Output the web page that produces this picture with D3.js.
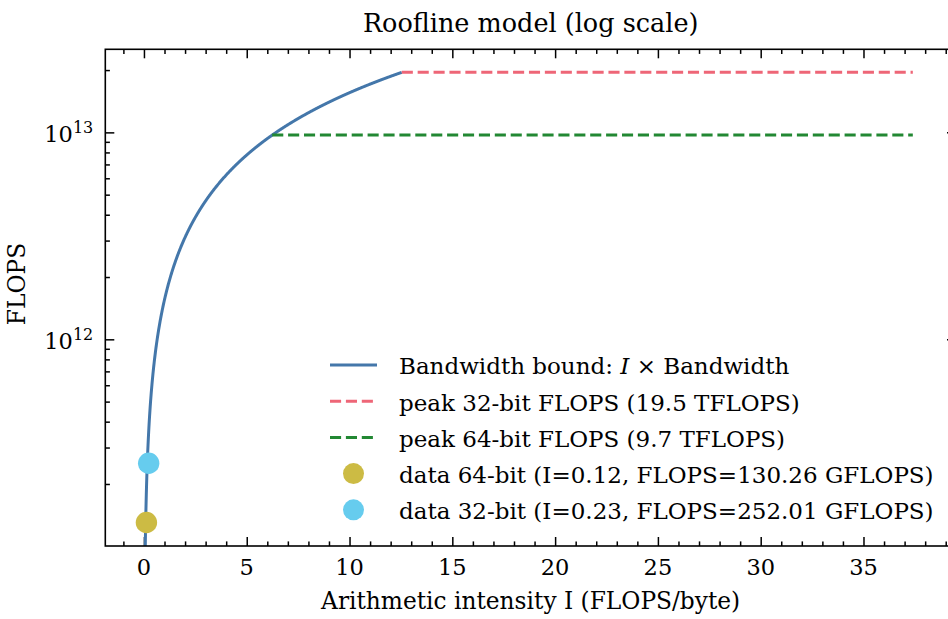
<!DOCTYPE html>
<html>
<head>
<meta charset="utf-8">
<script src="https://cdn.jsdelivr.net/npm/d3@7"></script>
<style>
  body { margin: 0; background: #ffffff; }
  svg text { font-family: "DejaVu Serif", serif; fill: #000; }
</style>
</head>
<body>
<svg id="chart" width="948" height="619"></svg>
<script>
// ---- data -------------------------------------------------------------
const xTickValues = [0, 5, 10, 15, 20, 25, 30, 35];
const xTickLabels = ["0", "5", "10", "15", "20", "25", "30", "35"];
const yTickExponents = [12, 13];
const bandwidth = 1.555e12;                     // bytes / s
const peakNames = ["peak 32-bit FLOPS (19.5 TFLOPS)", "peak 64-bit FLOPS (9.7 TFLOPS)"];
const peakFlops = [19.5e12, 9.7e12];
const peakColors = ["#EE6677", "#228833"];
const intensityEnd = 37.4;                      // right end of the compute roofs
const pointNames = ["data 64-bit (I=0.12, FLOPS=130.26 GFLOPS)", "data 32-bit (I=0.23, FLOPS=252.01 GFLOPS)"];
const pointIntensity = [0.12, 0.23];
const pointFlops = [130.26e9, 252.01e9];
const pointColors = ["#CCBB44", "#66CCEE"];
const lineColor = "#4477AA";

// ---- layout -----------------------------------------------------------
const svg = d3.select("#chart");
const box = { left: 105.3, right: 956, top: 49.3, bottom: 546 };
const TICK_FONT = 22.5, LABEL_FONT = 23.3, LEGEND_FONT = 23, TITLE_FONT = 25.5;

const x = d3.scaleLinear().domain([-1.88, 39.5]).range([box.left, box.right]);
const y = d3.scaleLog().domain([1.003e11, 2.52e13]).range([box.bottom, box.top]);

svg.append("defs").append("clipPath").attr("id", "plotArea")
  .append("rect")
  .attr("x", box.left).attr("y", box.top)
  .attr("width", box.right - box.left).attr("height", box.bottom - box.top);

// ---- ticks (all pointing inward, on all four sides) ----------------------
const xMinor = d3.range(Math.ceil(x.domain()[0]), Math.floor(x.domain()[1]) + 1)
  .filter(v => !xTickValues.includes(v));
const yMajor = yTickExponents.map(e => Math.pow(10, e));
const yMinor = [];
[11, 12, 13].forEach(e => d3.range(2, 10).forEach(k => {
  const v = k * Math.pow(10, e);
  if (v >= y.domain()[0] && v <= y.domain()[1]) yMinor.push(v);
}));

function tickGroup(axis, tx, ty) {
  const g = svg.append("g").attr("transform", `translate(${tx},${ty})`).call(axis);
  g.select(".domain").remove();
  g.selectAll("text").remove();
  g.selectAll("line").attr("stroke", "#000").attr("stroke-width", 1.5);
  return g;
}
const MAJ = 9, MIN = 4.6;
tickGroup(d3.axisBottom(x).tickValues(xTickValues).tickSizeInner(-MAJ).tickSizeOuter(0), 0, box.bottom);
tickGroup(d3.axisBottom(x).tickValues(xMinor).tickSizeInner(-MIN).tickSizeOuter(0), 0, box.bottom);
tickGroup(d3.axisTop(x).tickValues(xTickValues).tickSizeInner(-MAJ).tickSizeOuter(0), 0, box.top);
tickGroup(d3.axisTop(x).tickValues(xMinor).tickSizeInner(-MIN).tickSizeOuter(0), 0, box.top);
tickGroup(d3.axisLeft(y).tickValues(yMajor).tickSizeInner(-MAJ).tickSizeOuter(0), box.left, 0);
tickGroup(d3.axisLeft(y).tickValues(yMinor).tickSizeInner(-MIN).tickSizeOuter(0), box.left, 0);
tickGroup(d3.axisRight(y).tickValues(yMajor).tickSizeInner(-MAJ).tickSizeOuter(0), box.right, 0);
tickGroup(d3.axisRight(y).tickValues(yMinor).tickSizeInner(-MIN).tickSizeOuter(0), box.right, 0);

// ---- tick labels ----------------------------------------------------------
svg.append("g").selectAll("text")
  .data(xTickValues)
  .join("text")
  .attr("x", d => x(d))
  .attr("y", box.bottom + 28.5)
  .attr("text-anchor", "middle")
  .attr("font-size", TICK_FONT)
  .text((d, i) => xTickLabels[i]);

const yLab = svg.append("g").selectAll("text")
  .data(yTickExponents)
  .join("text")
  .attr("x", box.left - 12)
  .attr("y", d => y(Math.pow(10, d)) + 9.3)
  .attr("text-anchor", "end")
  .attr("font-size", TICK_FONT);
yLab.append("tspan").text("10");
yLab.append("tspan").attr("font-size", 16).attr("dy", -9).text(d => d);

// ---- data marks ----------------------------------------------------------
const plot = svg.append("g").attr("clip-path", "url(#plotArea)");

// memory-bound roof: FLOPS = I × bandwidth, up to the 32-bit ridge point
const ridge = peakFlops.map(p => p / bandwidth);
const roofI = d3.range(1, 1201).map(i => ridge[0] * i / 1200);
plot.append("path")
  .datum(roofI)
  .attr("fill", "none")
  .attr("stroke", lineColor)
  .attr("stroke-width", 3)
  .attr("d", d3.line().x(d => x(d)).y(d => y(d * bandwidth)));

// compute roofs
plot.selectAll("path.peak")
  .data(peakFlops)
  .join("path")
  .attr("class", "peak")
  .attr("fill", "none")
  .attr("stroke", (d, i) => peakColors[i])
  .attr("stroke-width", 3)
  .attr("stroke-dasharray", "11.1 4.8")
  .attr("d", (d, i) => d3.line()([[x(ridge[i]), y(d)], [x(intensityEnd), y(d)]]));

// measured points
plot.selectAll("circle.pt")
  .data(pointFlops)
  .join("circle")
  .attr("class", "pt")
  .attr("cx", (d, i) => x(pointIntensity[i]))
  .attr("cy", d => y(d))
  .attr("r", 10.7)
  .attr("fill", (d, i) => pointColors[i]);

// ---- spines ----------------------------------------------------------------
svg.append("rect")
  .attr("x", box.left).attr("y", box.top)
  .attr("width", box.right - box.left).attr("height", box.bottom - box.top)
  .attr("fill", "none").attr("stroke", "#000").attr("stroke-width", 1.6);

// ---- titles ----------------------------------------------------------------
const cx = (box.left + box.right) / 2;
svg.append("text")
  .attr("x", cx).attr("y", 32)
  .attr("text-anchor", "middle").attr("font-size", TITLE_FONT)
  .text("Roofline model (log scale)");
svg.append("text")
  .attr("x", cx).attr("y", 609)
  .attr("text-anchor", "middle").attr("font-size", LABEL_FONT)
  .text("Arithmetic intensity I (FLOPS/byte)");
svg.append("text")
  .attr("transform", "translate(25,284) rotate(-90)")
  .attr("text-anchor", "middle").attr("font-size", LABEL_FONT)
  .text("FLOPS");

// ---- legend ----------------------------------------------------------------
const leg = { x1: 330, x2: 377, tx: 399, y0: 365, dy: 36.2 };
const entries = [
  { type: "line", color: lineColor, dash: null },
  { type: "line", color: peakColors[0], dash: "11.1 4.8", name: peakNames[0] },
  { type: "line", color: peakColors[1], dash: "11.1 4.8", name: peakNames[1] },
  { type: "dot", color: pointColors[0], name: pointNames[0] },
  { type: "dot", color: pointColors[1], name: pointNames[1] }
];
const rows = svg.append("g").selectAll("g")
  .data(entries)
  .join("g")
  .attr("transform", (d, i) => `translate(0,${leg.y0 + i * leg.dy})`);
rows.filter(d => d.type === "line").append("line")
  .attr("x1", leg.x1).attr("x2", leg.x2)
  .attr("stroke", d => d.color).attr("stroke-width", 3)
  .attr("stroke-dasharray", d => d.dash);
rows.filter(d => d.type === "dot").append("circle")
  .attr("cx", (leg.x1 + leg.x2) / 2).attr("r", 10.5)
  .attr("fill", d => d.color);
const labels = rows.append("text")
  .attr("x", leg.tx).attr("y", 9.3).attr("font-size", LEGEND_FONT);
labels.each(function (d, i) {
  const t = d3.select(this);
  if (i === 0) {
    t.append("tspan").text("Bandwidth bound: ");
    t.append("tspan").attr("font-style", "italic").text("I");
    t.append("tspan").text(" × Bandwidth");
  } else {
    t.text(d.name);
  }
});
</script>
</body>
</html>
